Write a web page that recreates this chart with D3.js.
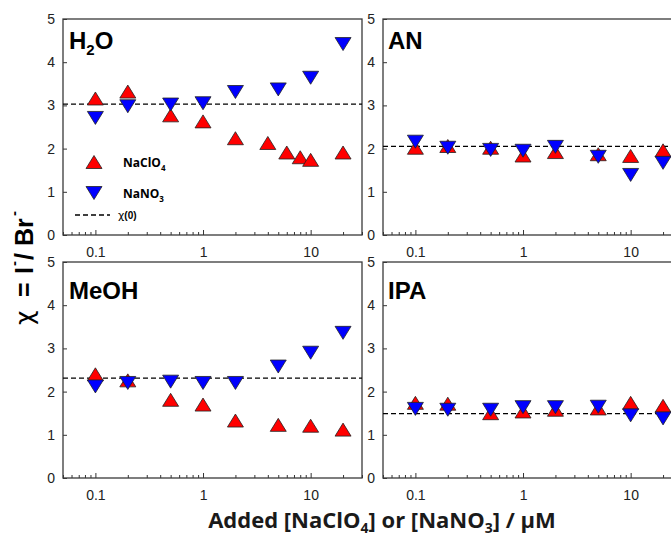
<!DOCTYPE html>
<html>
<head>
<meta charset="utf-8">
<script src="https://cdn.jsdelivr.net/npm/d3@7"></script>
<style>
  body { margin: 0; background: #fff; }
  svg { display: block; }
</style>
</head>
<body>
<svg id="chart" width="671" height="539"></svg>
<script>
// values: x = added salt (uM), y = chi = I-/Br-
const concStd = [0.1, 0.2, 0.5, 1, 2, 5, 10, 20];
const concH2OClO4 = [0.1, 0.2, 0.5, 1, 2, 4, 6, 8, 10, 20];

const h2oClO4 = [3.16, 3.32, 2.77, 2.63, 2.24, 2.13, 1.91, 1.80, 1.74, 1.91];
const h2oNO3  = [2.71, 2.98, 3.02, 3.05, 3.31, 3.37, 3.64, 4.42];
const anClO4  = [2.02, 2.06, 2.02, 1.84, 1.92, 1.87, 1.83, 1.96];
const anNO3   = [2.16, 2.02, 1.97, 1.95, 2.04, 1.81, 1.39, 1.67];
const meohClO4 = [2.40, 2.26, 1.81, 1.70, 1.33, 1.23, 1.21, 1.12];
const meohNO3  = [2.12, 2.20, 2.23, 2.20, 2.20, 2.58, 2.90, 3.36];
const ipaClO4 = [1.74, 1.72, 1.50, 1.54, 1.58, 1.61, 1.74, 1.67];
const ipaNO3  = [1.60, 1.58, 1.58, 1.64, 1.64, 1.65, 1.45, 1.38];

const chi0 = [3.03, 2.05, 2.31, 1.49];
const xTicks = [0.1, 1, 10];
const yTicks = [0, 1, 2, 3, 4, 5];

const panels = [
  {label: ["H", "2", "O"], col: 0, row: 0, xc: concH2OClO4, yc: h2oClO4, yn: h2oNO3, chi: chi0[0]},
  {label: ["AN"], col: 1, row: 0, xc: concStd, yc: anClO4, yn: anNO3, chi: chi0[1]},
  {label: ["MeOH"], col: 0, row: 1, xc: concStd, yc: meohClO4, yn: meohNO3, chi: chi0[2]},
  {label: ["IPA"], col: 1, row: 1, xc: concStd, yc: ipaClO4, yn: ipaNO3, chi: chi0[3]}
];

let svg = d3.select("#chart"),
    pw = 299, ph = 216,
    colX = [63, 383], rowY = [19, 262];

let x = d3.scaleLog().domain([0.05, 30]).range([0, pw]),
    y = d3.scaleLinear().domain([0, 5]).range([ph, 0]);

let minorTicks = x.ticks().filter(t => xTicks.indexOf(t) < 0);

let upTri = "M0,-6.5L8,6.5L-8,6.5Z",
    downTri = "M-8,-6.5L8,-6.5L0,6.5Z";

let tickFont = "14px 'Liberation Sans', Arial, sans-serif";

panels.forEach(p => {
  let g = svg.append("g")
    .attr("transform", "translate(" + colX[p.col] + "," + rowY[p.row] + ")");

  // minor x ticks
  g.append("g")
    .attr("transform", "translate(0," + ph + ")")
    .call(d3.axisBottom(x).tickValues(minorTicks).tickSize(-3).tickFormat(""))
    .call(a => a.select(".domain").remove())
    .call(a => a.selectAll("line").attr("stroke", "#333"));

  g.append("g")
    .attr("transform", "translate(0," + ph + ")")
    .call(d3.axisBottom(x).tickValues(xTicks).tickSize(-5).tickPadding(12).tickFormat(d => d))
    .call(a => a.select(".domain").remove())
    .call(a => a.selectAll("line").attr("stroke", "#333"))
    .call(a => a.selectAll("text").attr("fill", "#222").style("font", tickFont));

  g.append("g")
    .call(d3.axisLeft(y).tickValues(yTicks).tickSize(-4).tickPadding(8).tickFormat(d3.format("d")))
    .call(a => a.select(".domain").remove())
    .call(a => a.selectAll("line").attr("stroke", "#333"))
    .call(a => a.selectAll("text").attr("fill", "#222").style("font", tickFont));

  g.append("rect")
    .attr("width", pw).attr("height", ph)
    .attr("fill", "none").attr("stroke", "#3a3a3a").attr("stroke-width", 1.3);

  g.append("line")
    .attr("x1", 0).attr("x2", pw)
    .attr("y1", y(p.chi)).attr("y2", y(p.chi))
    .attr("stroke", "#000").attr("stroke-width", 1.3)
    .attr("stroke-dasharray", "5,3");

  g.selectAll(".clo4")
    .data(p.yc.map((v, i) => ({c: p.xc[i], v: v})))
    .enter().append("path")
    .attr("class", "clo4")
    .attr("d", upTri)
    .attr("transform", d => "translate(" + x(d.c) + "," + y(d.v) + ")")
    .attr("fill", "#ff0000").attr("stroke", "#222").attr("stroke-width", 0.8);

  g.selectAll(".no3")
    .data(p.yn.map((v, i) => ({c: concStd[i], v: v})))
    .enter().append("path")
    .attr("class", "no3")
    .attr("d", downTri)
    .attr("transform", d => "translate(" + x(d.c) + "," + y(d.v) + ")")
    .attr("fill", "#0000ff").attr("stroke", "#222").attr("stroke-width", 0.8);

  let t = g.append("text")
    .attr("x", p.col == 0 ? 6 : 5)
    .attr("y", p.row == 0 ? 30 : 37)
    .style("font", "bold 24px 'Liberation Sans', Arial, sans-serif")
    .attr("fill", "#000");
  if (p.label.length == 3) {
    t.append("tspan").text(p.label[0]);
    t.append("tspan").attr("dy", 6).style("font-size", "15px").text(p.label[1]);
    t.append("tspan").attr("dy", -6).text(p.label[2]);
  } else {
    t.text(p.label[0]);
  }
});

// legend inside the H2O panel
let leg = svg.append("g").attr("transform", "translate(" + colX[0] + "," + rowY[0] + ")");
let legFont = "bold 12px 'Open Sans', Calibri, sans-serif";

leg.append("path").attr("d", upTri).attr("transform", "translate(31,143)")
  .attr("fill", "#ff0000").attr("stroke", "#222").attr("stroke-width", 0.8);
let l1 = leg.append("text").attr("x", 60).attr("y", 148).style("font", legFont);
l1.append("tspan").text("NaClO");
l1.append("tspan").attr("dy", 4).style("font-size", "8px").text("4");

leg.append("path").attr("d", downTri).attr("transform", "translate(31,174)")
  .attr("fill", "#0000ff").attr("stroke", "#222").attr("stroke-width", 0.8);
let l2 = leg.append("text").attr("x", 60).attr("y", 179).style("font", legFont);
l2.append("tspan").text("NaNO");
l2.append("tspan").attr("dy", 4).style("font-size", "8px").text("3");

leg.append("line").attr("x1", 12).attr("x2", 47).attr("y1", 196).attr("y2", 196)
  .attr("stroke", "#000").attr("stroke-width", 1.3).attr("stroke-dasharray", "5,3");
let l3 = leg.append("text").attr("x", 55).attr("y", 200);
l3.append("tspan").style("font", "11px 'DejaVu Sans', sans-serif").text("\u03c7");
l3.append("tspan").style("font", "bold 10px 'Liberation Sans', Arial, sans-serif").text("(0)");

// y axis title, rotated; pieces spaced out like the original
let yt = svg.append("text")
  .attr("transform", "translate(33,0) rotate(-90)")
  .attr("fill", "#000");
let bold25 = "bold 25px 'Liberation Sans', Arial, sans-serif",
    bold14 = "bold 15px 'Liberation Sans', Arial, sans-serif";
yt.append("tspan").attr("x", -325).attr("y", 0).style("font", "25px 'DejaVu Sans', sans-serif").text("\u03c7");
yt.append("tspan").attr("x", -297).attr("y", 0).style("font", bold25).text("=");
yt.append("tspan").attr("x", -274).attr("y", 0).style("font", bold25).text("I");
yt.append("tspan").attr("x", -266).attr("y", -14).style("font", bold14).text("-");
yt.append("tspan").attr("x", -260).attr("y", 0).style("font", bold25).text("/");
yt.append("tspan").attr("x", -246).attr("y", 0).style("font", bold25).text("Br");
yt.append("tspan").attr("x", -216).attr("y", -14).style("font", bold14).text("-");

// x axis title
let xt = svg.append("text")
  .attr("x", 382).attr("y", 528)
  .attr("text-anchor", "middle")
  .style("font", "bold 22px 'Open Sans', Calibri, sans-serif")
  .attr("fill", "#1a1a1a");
xt.append("tspan").text("Added [NaClO");
xt.append("tspan").attr("dy", 5).style("font-size", "14px").text("4");
xt.append("tspan").attr("dy", -5).text("] or [NaNO");
xt.append("tspan").attr("dy", 5).style("font-size", "14px").text("3");
xt.append("tspan").attr("dy", -5).text("] / \u03bcM");
</script>
</body>
</html>
